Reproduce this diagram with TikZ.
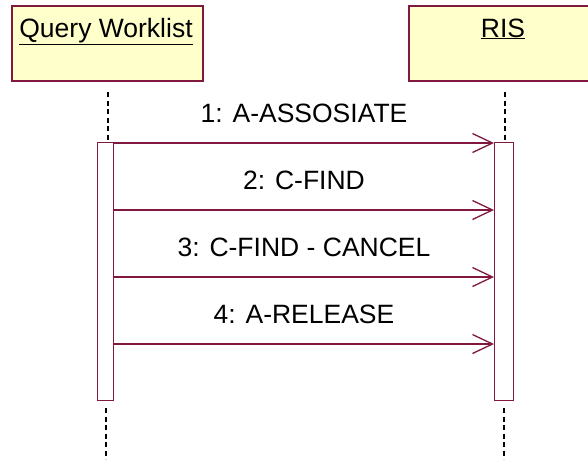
\documentclass[tikz,border=0pt]{standalone}
\usepackage{fontspec}
\setmainfont{Liberation Sans}
\usetikzlibrary{arrows.meta}
\definecolor{umlred}{RGB}{128,24,64}
\definecolor{umlfill}{RGB}{255,255,204}
\tikzset{
  headbox/.style={draw=umlred, line width=1.6pt, fill=umlfill, minimum height=75pt, inner sep=0pt, anchor=north west},
  actbar/.style={draw=umlred, line width=1.4pt, fill=white, inner sep=0pt, anchor=north west},
  lifeline/.style={black, line width=1.5pt, dash pattern=on 5pt off 3.5pt},
  msg/.style={draw=umlred, line width=1.4pt, -{Straight Barb[length=20pt,width=19pt,line width=1.3pt]}},
  msglabel/.style={font=\fontsize{26.5}{30}\selectfont, anchor=base, inner sep=0pt},
  headlabel/.style={font=\fontsize{26.5}{30}\selectfont, anchor=base, inner sep=0pt}
}
\begin{document}
\begin{tikzpicture}[x=1pt,y=-1pt]
\fill[white] (0,0) rectangle (588,459);
\useasboundingbox (0,0) rectangle (588,459);
\begin{scope}
\clip (0,0) rectangle (588,459);
% heads
\node[headbox, minimum width=191pt] (qw) at (11,5) {};
\node[headbox, minimum width=190pt] (ris) at (408,5) {};
\node[headlabel] (qwt) at (106,37) {\underline{Query Worklist}};
\node[headlabel] (rist) at (503,37) {\underline{RIS}};
% lifelines
\coordinate (l1a) at (108,92);
\coordinate (l1b) at (108,142);
\coordinate (l1c) at (106,408);
\coordinate (l1d) at (106,459);
\coordinate (l2a) at (505,92);
\coordinate (l2b) at (505,142);
\coordinate (l2c) at (504,408);
\coordinate (l2d) at (504,459);
\draw[lifeline] (l1a) -- (l1b);
\draw[lifeline] (l1c) -- (l1d);
\draw[lifeline] (l2a) -- (l2b);
\draw[lifeline] (l2c) -- (l2d);
% activation bars
\node[actbar, minimum width=16pt, minimum height=258pt] (act1) at (97,142) {};
\node[actbar, minimum width=19pt, minimum height=258pt] (act2) at (494,142) {};
% messages
\coordinate (s1) at (113,143); \coordinate (e1) at (494,143);
\coordinate (s2) at (113,210); \coordinate (e2) at (494,210);
\coordinate (s3) at (113,277); \coordinate (e3) at (494,277);
\coordinate (s4) at (113,344); \coordinate (e4) at (494,344);
\draw[msg] (s1) -- (e1);
\draw[msg] (s2) -- (e2);
\draw[msg] (s3) -- (e3);
\draw[msg] (s4) -- (e4);
\node[msglabel] (m1) at (304,122) {1: A-ASSOSIATE};
\node[msglabel] (m2) at (304,189) {2: C-FIND};
\node[msglabel] (m3) at (304,256) {3: C-FIND - CANCEL};
\node[msglabel] (m4) at (304,323) {4: A-RELEASE};
\end{scope}
\end{tikzpicture}
\end{document}
